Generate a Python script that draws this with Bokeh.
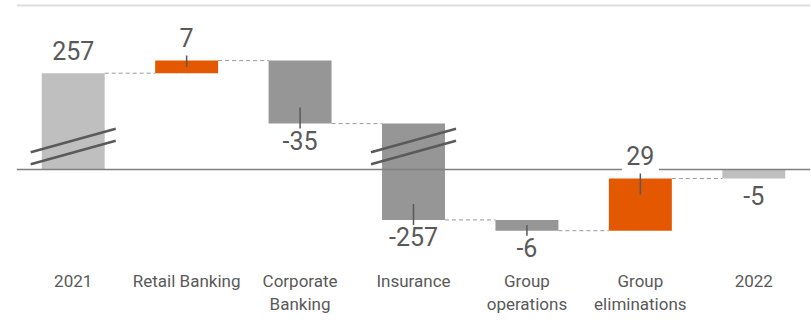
from bokeh.plotting import figure
from bokeh.models import Range1d
from bokeh.embed import file_html
from bokeh.resources import INLINE
from bokeh.core.properties import value

# ---------------- data ----------------
categories = ["2021", "Retail Banking", "Corporate Banking", "Insurance",
              "Group operations", "Group eliminations", "2022"]
label_line1 = ["2021", "Retail Banking", "Corporate", "Insurance", "Group", "Group", "2022"]
label_line2 = ["", "", "Banking", "", "operations", "eliminations", ""]
values = [257, 7, -35, -257, -6, 29, -5]
is_total = [True, False, False, False, False, False, True]

# ---------------- layout constants ----------------
W, H = 811, 320
LEFT, RIGHT = 16, 1
ZERO_PX = 169.0          # pixel row of the zero line
PX_PER_UNIT = 1.8        # vertical pixels per unit
BREAK_AT = 100           # values above this are shown compressed
BREAK_OFFSET = 203.5     # amount removed by the axis break
BAR_W = 0.555
N = len(categories)
COL_PX = (W - LEFT - RIGHT) / N

def u(px):
    return px / PX_PER_UNIT

def xu(px):
    return px / COL_PX

def disp(v):
    return v - BREAK_OFFSET if v > BREAK_AT else v

# waterfall geometry
starts, ends = [], []
cum = 0
for v, t in zip(values, is_total):
    if t:
        s, e = 0, v
    else:
        s, e = cum, cum + v
    cum = e
    starts.append(s)
    ends.append(e)

xs = [i + 0.5 for i in range(N)]
tops = [disp(max(s, e)) for s, e in zip(starts, ends)]
bots = [disp(min(s, e)) for s, e in zip(starts, ends)]
colors = []
for v, t in zip(values, is_total):
    if t:
        colors.append("#bfbfbf")
    elif v > 0:
        colors.append("#e35800")
    else:
        colors.append("#969696")

p = figure(width=W, height=H, output_backend="svg", toolbar_location=None,
           x_range=Range1d(0, N), y_range=Range1d(-(H - ZERO_PX) / PX_PER_UNIT, ZERO_PX / PX_PER_UNIT),
           x_axis_location=None, y_axis_location=None,
           min_border_left=LEFT, min_border_right=RIGHT, min_border_top=0, min_border_bottom=0)
p.outline_line_color = None
p.xgrid.visible = False
p.ygrid.visible = False
p.background_fill_color = "white"
p.border_fill_color = "white"

# top rule
p.segment(x0=[0], x1=[N], y0=[u(ZERO_PX - 5)], y1=[u(ZERO_PX - 5)],
          line_color="#dedede", line_width=2)

# bars
p.vbar(x=xs, width=BAR_W, top=tops, bottom=bots, fill_color=colors, line_color=None)

# zero line
p.segment(x0=[0], x1=[N], y0=[0], y1=[0], line_color="#808080", line_width=1.5)

# dashed connectors
cx0, cx1, cy = [], [], []
for i in range(N - 1):
    cx0.append(xs[i] + BAR_W / 2)
    cx1.append(xs[i + 1] - BAR_W / 2)
    cy.append(disp(ends[i]))
p.segment(x0=cx0, x1=cx1, y0=cy, y1=cy, line_color="#9a9a9a", line_width=1, line_dash="4 3")

# break marks on bars that cross the axis break
bx0, bx1, by0, by1 = [], [], [], []
for i in range(N):
    lo, hi = min(starts[i], ends[i]), max(starts[i], ends[i])
    if lo < BREAK_AT < hi:
        for centre_px in (140, 152):
            yc = u(ZERO_PX - centre_px)
            bx0.append(xs[i] - xu(42.5))
            bx1.append(xs[i] + xu(42.5))
            by0.append(yc - u(11.8))
            by1.append(yc + u(11.8))
p.segment(x0=bx0, x1=bx1, y0=by0, y1=by1, line_color="#5a5a5a", line_width=2.5)

# value labels (with white boxes behind them)
lx, ly, lt, bxl, bxr, bb, bt = [], [], [], [], [], [], []
for i in range(N):
    v = values[i]
    txt = str(v)
    lx.append(xs[i])
    lt.append(txt)
    half = xu((13 * len(txt) + 11) / 2)
    bxl.append(xs[i] - half)
    bxr.append(xs[i] + half)
    if v >= 0:
        ly.append(tops[i] + u(23))
        bb.append(tops[i] + u(6))
        bt.append(tops[i] + u(33))
    else:
        ly.append(bots[i] - u(17))
        bt.append(bots[i] - u(8))
        bb.append(bots[i] - u(34))
p.quad(left=bxl, right=bxr, bottom=bb, top=bt, fill_color="white", line_color=None)
p.text(x=lx, y=ly, text=lt, text_font=value("Roboto"), text_font_size="25px",
       text_color="#595959", text_align="center", text_baseline="alphabetic")

# label ticks on change bars
tx, ty0, ty1 = [], [], []
for i in range(N):
    if is_total[i]:
        continue
    mid = (tops[i] + bots[i]) / 2
    tx.append(xs[i])
    if values[i] >= 0:
        ty0.append(tops[i] + u(5))
        ty1.append(max(tops[i] - u(16), mid))
    else:
        ty0.append(bots[i] - u(5))
        ty1.append(min(bots[i] + u(16), mid))
p.segment(x0=tx, x1=tx, y0=ty0, y1=ty1, line_color="#595959", line_width=1.5)

# category labels
p.text(x=xs, y=[u(ZERO_PX - 280.5)] * N, text=label_line1, text_font=value("Roboto"),
       text_font_size="17px", text_color="#595959", text_align="center",
       text_baseline="alphabetic")
p.text(x=xs, y=[u(ZERO_PX - 303.5)] * N, text=label_line2, text_font=value("Roboto"),
       text_font_size="17px", text_color="#595959", text_align="center",
       text_baseline="alphabetic")

open("out.html", "w").write(file_html(p, INLINE))
